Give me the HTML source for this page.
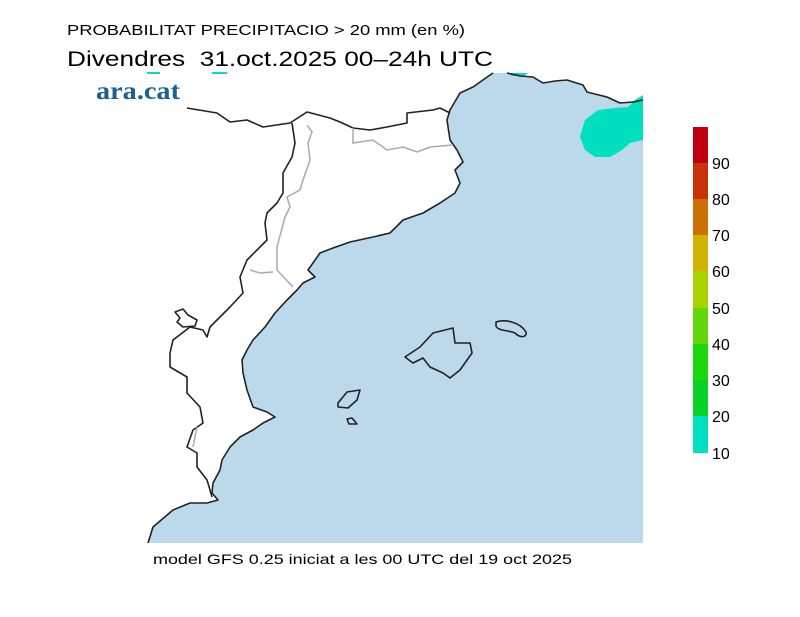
<!DOCTYPE html>
<html><head><meta charset="utf-8"><style>
html,body{margin:0;padding:0;background:#fff;width:800px;height:617px;overflow:hidden}
svg{display:block}
</style></head><body>
<svg width="800" height="617" viewBox="0 0 800 617" xmlns="http://www.w3.org/2000/svg">
<rect width="800" height="617" fill="#fff"/>
<text x="67" y="35" font-family="Liberation Sans, sans-serif" font-size="15" fill="#000" textLength="398" lengthAdjust="spacingAndGlyphs">PROBABILITAT PRECIPITACIO &gt; 20 mm (en %)</text>
<text x="67" y="66" font-family="Liberation Sans, sans-serif" font-size="21" fill="#000" textLength="426" lengthAdjust="spacingAndGlyphs" xml:space="preserve">Divendres  31.oct.2025 00–24h UTC</text>
<path fill="#bcd9eb" d="M148,543 L153,527 L173,510 L190,503 L207,503 L218,500 L212,493 L213,483 L220,470 L222,460 L230,447 L240,437 L253,430 L263,423 L275,417 L267,412 L253,407 L247,390 L243,373 L242,360 L247,350 L253,340 L265,327 L275,313 L287,300 L297,290 L303,283 L315,277 L308,270 L320,253 L333,248 L350,242 L373,237 L390,233 L403,220 L423,213 L440,203 L455,193 L460,183 L455,170 L463,162 L457,150 L450,140 L447,120 L450,110 L460,93 L473,87 L490,75 L493,73 L507,73 L520,76 L533,77 L543,83 L555,81 L567,80 L583,85 L587,92 L607,97 L620,103 L633,102 L643,100 L643,543 Z"/>
<path fill="#00e0c0" d="M643,95 L635,100 L628,107 L615,108 L598,110 L585,120 L580,137 L585,150 L595,157 L610,157 L622,150 L630,143 L643,140 Z"/>
<path fill="#00e0c0" d="M507,73 L528,73 L524,76 L512,76 Z"/>
<rect x="147" y="72" width="13" height="2" fill="#00e0c0"/>
<rect x="212" y="72" width="15" height="2" fill="#00e0c0"/>
<g fill="none" stroke="#222" stroke-width="1.6" stroke-linejoin="round">
<polyline points="148,543 153,527 173,510 190,503 207,503 218,500 212,493 213,483 220,470 222,460 230,447 240,437 253,430 263,423 275,417 267,412 253,407 247,390 243,373 242,360 247,350 253,340 265,327 275,313 287,300 297,290 303,283 315,277 308,270 320,253 333,248 350,242 373,237 390,233 403,220 423,213 440,203 455,193 460,183 455,170 463,162 457,150 450,140 447,120 450,110 460,93 473,87 490,75 493,73"/>
<polyline points="507,73 520,76 533,77 543,83 555,81 567,80 583,85 587,92 607,97 620,103 633,102 643,100"/>
<polyline points="187,108 217,113 230,122 247,120 263,127 290,123 307,112 330,118 340,122 353,128 370,130 387,127 407,123 407,113 433,110 440,108 450,113"/>
<polyline points="292,123 295,143 292,157 283,173 283,193 277,203 267,213 265,223 267,240 247,260 240,277 243,293 230,307 210,327 207,337 203,330 190,327 173,340 170,353 170,367 187,377 187,393 200,407 203,423 193,430 187,447 197,453 197,467 207,480 210,490 212,497"/>
<path d="M175,312 L183,309 L188,315 L197,320 L195,326 L183,327 L177,322 L180,318 Z"/>
<path d="M405,357 L420,347 L433,333 L453,328 L455,343 L470,343 L472,353 L460,370 L450,378 L443,373 L430,367 L423,358 L413,363 Z"/>
<path d="M496,322 C505,319 520,322 526,332 C527,338 520,338 515,333 C508,330 498,331 496,326 Z"/>
<path d="M338,403 L347,392 L360,390 L357,400 L348,408 L338,407 Z"/>
<path d="M347,419 L352,418 L357,424 L349,424 Z"/>
</g>
<g fill="none" stroke="#aaa" stroke-width="1.5">
<polyline points="307,125 312,132 308,143 310,160 303,180 300,190 287,197 290,207 285,217 277,247 277,270 293,287"/>
<polyline points="250,270 260,273 273,272"/>
<polyline points="353,128 353,143 373,140 387,150 403,147 417,152 430,147 453,145"/>
<polyline points="197,427 193,447"/>
</g>
<text x="96" y="99" font-family="Liberation Serif, serif" font-weight="bold" font-size="25" fill="#1a5f95" textLength="84" lengthAdjust="spacingAndGlyphs">ara.cat</text>
<rect x="693" y="127" width="15" height="36" fill="#c00010"/>
<rect x="693" y="163" width="15" height="36" fill="#c83208"/>
<rect x="693" y="199" width="15" height="36" fill="#cc7005"/>
<rect x="693" y="235" width="15" height="36" fill="#d0b400"/>
<rect x="693" y="271" width="15" height="37" fill="#a8d200"/>
<rect x="693" y="308" width="15" height="36" fill="#62d80a"/>
<rect x="693" y="344" width="15" height="36" fill="#1cd80a"/>
<rect x="693" y="380" width="15" height="36" fill="#08d228"/>
<rect x="693" y="416" width="15" height="37" fill="#00e0c0"/>
<g font-family="Liberation Sans, sans-serif" font-size="16" fill="#000">
<text x="712" y="169">90</text><text x="712" y="205">80</text><text x="712" y="241">70</text>
<text x="712" y="277">60</text><text x="712" y="314">50</text><text x="712" y="350">40</text>
<text x="712" y="386">30</text><text x="712" y="422">20</text><text x="712" y="459">10</text>
</g>
<text x="153" y="564" font-family="Liberation Sans, sans-serif" font-size="14" fill="#000" textLength="419" lengthAdjust="spacingAndGlyphs">model GFS 0.25 iniciat a les 00 UTC del 19 oct 2025</text>
</svg>
</body></html>
